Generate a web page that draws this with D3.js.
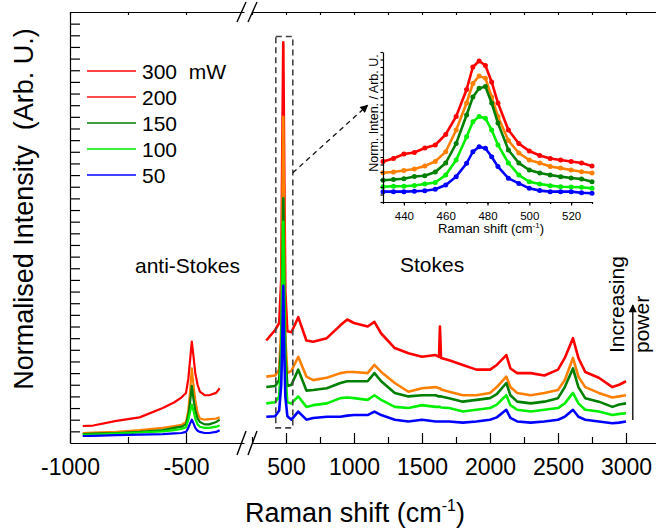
<!DOCTYPE html>
<html>
<head>
<meta charset="utf-8">
<script src="https://cdnjs.cloudflare.com/ajax/libs/d3/7.8.5/d3.min.js"></script>
<style>
  body { margin: 0; background: #fff; }
  text { font-family: "Liberation Sans", Arial, sans-serif; fill: #000; }
  .axis path, .axis line { stroke: #000; stroke-width: 1.2; }
</style>
</head>
<body>
<svg id="chart" width="656" height="530"></svg>
<script>
// Series labels and colours (legend shows 200 in red, as in the original)
const powers = ["300", "200", "150", "100", "50"];
const seriesColors = ["#ff0000", "#ff8000", "#007f00", "#00ee00", "#0000ff"];
const legendColors = ["#ff0000", "#ff1010", "#007f00", "#00ee00", "#0000ff"];

// anti-Stokes side (cm-1, normalised intensity)
const antiX = [-945, -900, -800, -700, -600, -550, -520, -500, -490, -482, -475, -468, -460, -450, -440, -420, -400, -370, -355];
const anti300 = [1.46, 1.5, 1.9, 2.2, 3.0, 3.5, 3.9, 4.3, 5.5, 7.2, 8.7, 7.5, 6.0, 5.0, 4.4, 4.1, 4.1, 4.3, 4.7];
const anti200 = [0.86, 0.9, 0.95, 1.1, 1.3, 1.45, 1.55, 1.8, 2.8, 4.5, 6.4, 5.0, 3.7, 2.6, 2.1, 2.0, 2.05, 2.1, 2.2];
const anti150 = [0.77, 0.8, 0.85, 0.95, 1.1, 1.3, 1.4, 1.6, 2.4, 3.6, 4.9, 3.8, 2.8, 2.1, 1.8, 1.6, 1.6, 1.8, 2.0];
const anti100 = [0.7, 0.72, 0.8, 0.9, 1.0, 1.1, 1.2, 1.35, 2.0, 2.7, 3.3, 2.8, 2.1, 1.6, 1.4, 1.3, 1.3, 1.4, 1.5];
const anti50  = [0.6, 0.62, 0.68, 0.72, 0.77, 0.82, 0.86, 0.95, 1.3, 1.7, 2.0, 1.7, 1.3, 1.05, 0.95, 0.86, 0.86, 0.95, 1.1];

// Stokes side
const stokesX = [355, 420, 450, 465, 472, 480, 488, 495, 510, 540, 590, 650, 700, 800, 900, 950, 1000, 1100, 1150, 1200,
  1300, 1400, 1500, 1600, 1625, 1632, 1640, 1700, 1800, 1900, 2000, 2050, 2120, 2150, 2200, 2300, 2400, 2500, 2550, 2610,
  2650, 2700, 2800, 2900, 2950, 3000];
const stokes300 = [8.8, 9.7, 10.3, 14, 24, 34.4, 22, 13, 9.6, 9.5, 10.8, 8.8, 8.7, 9.0, 10.1, 10.6, 10.3, 10.0, 10.4, 9.4,
  8.15, 7.7, 7.4, 7.55, 7.4, 10.0, 7.3, 7.1, 6.7, 6.3, 6.3, 6.7, 7.55, 6.4, 6.0, 6.0, 5.8, 6.3, 7.3, 9.0,
  7.3, 6.1, 5.6, 4.8, 5.0, 5.3];
const stokes200 = [5.7, 5.8, 6.3, 10, 18, 28, 16, 9, 6.0, 6.2, 7.4, 5.7, 5.4, 5.6, 6.0, 6.1, 6.1, 6.0, 6.7, 6.1,
  5.15, 4.4, 4.7, 4.8, 4.7, 4.7, 4.6, 4.4, 4.1, 4.1, 4.3, 4.8, 5.7, 4.8, 4.3, 4.1, 4.3, 4.55, 5.4, 7.3,
  5.7, 4.8, 4.3, 3.9, 4.0, 4.1];
const stokes150 = [4.8, 4.9, 5.4, 8.5, 14, 21, 12.5, 7.5, 4.9, 5.0, 6.3, 4.5, 4.55, 4.7, 5.15, 5.3, 5.3, 5.3, 6.0, 5.3,
  4.3, 4.0, 4.1, 4.1, 4.0, 4.0, 4.0, 3.85, 3.55, 3.7, 3.85, 4.2, 5.15, 4.1, 3.55, 3.4, 3.55, 3.85, 4.8, 6.4,
  4.8, 3.85, 3.55, 3.1, 3.3, 3.4];
const stokes100 = [3.4, 3.5, 4.0, 7, 12, 19, 11, 6, 3.5, 3.4, 4.0, 3.1, 3.25, 3.4, 3.85, 3.9, 3.85, 3.7, 4.1, 3.7,
  3.1, 3.0, 3.25, 3.1, 3.1, 3.1, 3.05, 3.0, 2.7, 2.85, 3.0, 3.3, 4.1, 3.25, 2.85, 2.7, 2.85, 3.0, 3.4, 4.3,
  3.4, 2.85, 2.7, 2.4, 2.5, 2.55];
const stokes50 = [2.25, 2.3, 2.8, 5, 8.5, 13.5, 7.5, 4, 2.3, 2.0, 2.7, 2.0, 2.15, 2.25, 2.25, 2.35, 2.4, 2.4, 2.7, 2.4,
  2.0, 1.85, 2.0, 1.85, 1.85, 1.85, 1.85, 1.85, 1.75, 1.85, 2.0, 2.2, 2.85, 2.15, 1.85, 1.75, 1.85, 2.0, 2.25, 2.85,
  2.25, 2.0, 1.85, 1.7, 1.75, 1.85];

// Inset: zoom on the 480 cm-1 band (normalised, offset)
const insetX = [430, 435, 440, 445, 450, 455, 460, 465, 470, 473, 476, 479, 482, 485, 490, 495, 500, 505, 510, 515, 520, 525, 530];
const inset300 = [27, 29, 32, 33, 36, 38, 45, 57, 75, 90, 94, 91, 80, 66, 48, 39, 34, 31, 29, 28, 27, 26, 24];
const inset200 = [19.5, 20, 21, 22, 24, 27, 33.5, 48, 66, 79, 84, 82.5, 70, 57, 41, 32.6, 28, 26, 23.6, 22.6, 21.3, 20.2, 19.3];
const inset150 = [14.5, 15, 15.5, 17, 17.5, 20, 26, 39, 58, 70, 75.8, 77, 66, 52.6, 34.7, 26, 21.3, 19.3, 18, 16.9, 16, 15.3, 13.5];
const inset100 = [10.2, 10.5, 10.5, 11, 12, 13, 18, 28, 43.5, 53.5, 57, 55.8, 48, 38, 26, 18, 13.5, 12, 10.9, 10.2, 10, 9.8, 9.1];
const inset50  = [6.9, 6.9, 6.9, 7.2, 7.5, 8.5, 11.3, 16.9, 25.8, 33.5, 36.9, 35.8, 30.2, 23.6, 15.8, 12.4, 9.1, 7.6, 6.9, 6.9, 6.9, 6.2, 5.8];

// Ticks
const xMajorLeft = [-1000, -500];
const xMinorLeft = [-750];
const xMajorRight = [500, 1000, 1500, 2000, 2500, 3000];
const xMinorRight = [250, 750, 1250, 1750, 2250, 2750, 3250];
const yTicks = d3.range(1, 37);
const insetMajor = [440, 460, 480, 500, 520];
const insetMinor = d3.range(430, 531, 10);
const insetYTicks = d3.range(0, 101, 5);

const antiSets = [anti300, anti200, anti150, anti100, anti50];
const stokesSets = [stokes300, stokes200, stokes150, stokes100, stokes50];
const insetSets = [inset300, inset200, inset150, inset100, inset50];

// --- scales (broken x axis: two segments) ---
const xL = d3.scaleLinear().domain([-1000, -250]).range([70, 244]);
const xR = d3.scaleLinear().domain([250, 3250]).range([252, 660]);
const y = d3.scaleLinear().domain([0, 37]).range([443, 12]);

const svg = d3.select("#chart");

// spectra
function drawLines(xs, sets, xs_scale, width) {
  sets.forEach(function(vals, i) {
    const pts = xs.map((x, j) => [x, vals[j]]);
    svg.append("path")
      .datum(pts)
      .attr("fill", "none")
      .attr("stroke", seriesColors[i])
      .attr("stroke-width", width)
      .attr("stroke-linejoin", "round")
      .attr("d", d3.line().x(d => xs_scale(d[0])).y(d => y(d[1])));
  });
}
drawLines(antiX, antiSets, xL, 2.2);
drawLines(stokesX, stokesSets, xR, 2.6);

// axes
const fmt = d => String(d);
function bottomAxis(scale, major, minor) {
  svg.append("g").attr("class", "axis").attr("transform", "translate(0,443)")
    .call(d3.axisBottom(scale).tickValues(minor).tickSizeInner(-6).tickSizeOuter(0).tickFormat(""));
  const g = svg.append("g").attr("class", "axis").attr("transform", "translate(0,443)")
    .call(d3.axisBottom(scale).tickValues(major).tickSizeInner(-10).tickSizeOuter(0).tickPadding(16).tickFormat(fmt));
  g.selectAll("text").attr("font-size", 23);
  g.select(".domain").remove();
}
bottomAxis(xL, xMajorLeft, xMinorLeft);
bottomAxis(xR, xMajorRight, xMinorRight);

function topAxis(scale, ticks) {
  svg.append("g").attr("class", "axis").attr("transform", "translate(0,12)")
    .call(d3.axisTop(scale).tickValues(ticks).tickSizeInner(-3).tickSizeOuter(0).tickFormat(""));
}
topAxis(xL, xMajorLeft.concat(xMinorLeft));
topAxis(xR, xMajorRight.concat(xMinorRight));

svg.append("g").attr("class", "axis").attr("transform", "translate(70,0)")
  .call(d3.axisLeft(y).tickValues(yTicks).tickSizeInner(-10).tickSizeOuter(0).tickFormat(""));

// axis break marks
const brk = (xL.range()[1] + xR.range()[0]) / 2;
[[443, 12], [12, 10]].forEach(function(b) {
  [-6, 5].forEach(function(dx) {
    svg.append("line")
      .attr("x1", brk + dx - 5).attr("y1", b[0] + b[1])
      .attr("x2", brk + dx + 4).attr("y2", b[0] - b[1])
      .attr("stroke", "#000").attr("stroke-width", 1.4);
  });
});

// axis titles
svg.append("text")
  .attr("transform", "translate(33,209) rotate(-90)")
  .attr("text-anchor", "middle")
  .attr("font-size", 27)
  .style("white-space", "pre")
  .text("Normalised Intensity  (Arb. U.)");

const xt = svg.append("text").attr("x", 355).attr("y", 522).attr("text-anchor", "middle").attr("font-size", 27);
xt.append("tspan").text("Raman shift (cm");
xt.append("tspan").attr("dy", -11).attr("font-size", 16).text("-1");
xt.append("tspan").attr("dy", 11).text(")");

// legend
powers.forEach(function(p, i) {
  const ly = 71 + i * 26;
  svg.append("line").attr("x1", 87).attr("x2", 136).attr("y1", ly).attr("y2", ly)
    .attr("stroke", legendColors[i]).attr("stroke-width", 1.5);
  svg.append("text").attr("x", 142).attr("y", ly + 7.5).attr("font-size", 21)
    .style("white-space", "pre")
    .text(i === 0 ? p + "  mW" : p);
});

// region labels
svg.append("text").attr("x", 135).attr("y", 273).attr("font-size", 21).text("anti-Stokes");
svg.append("text").attr("x", 400).attr("y", 272).attr("font-size", 21).text("Stokes");

// increasing power arrow
svg.append("defs").append("marker")
  .attr("id", "head").attr("viewBox", "0 0 10 10").attr("refX", 9).attr("refY", 5)
  .attr("markerWidth", 10).attr("markerHeight", 8).attr("markerUnits", "userSpaceOnUse")
  .attr("orient", "auto")
  .append("path").attr("d", "M0,0 L10,5 L0,10 Z").attr("fill", "#000");

svg.append("line")
  .attr("x1", xR(3050)).attr("y1", y(1.97))
  .attr("x2", xR(3050)).attr("y2", y(11.85))
  .attr("stroke", "#000").attr("stroke-width", 1.3)
  .attr("marker-end", "url(#head)");
svg.append("text").attr("transform", "translate(624,353) rotate(-90)").attr("font-size", 21).text("Increasing");
svg.append("text").attr("transform", "translate(649,353) rotate(-90)").attr("font-size", 21).text("power");

// dashed box round the main peak and arrow to the inset
svg.append("rect")
  .attr("x", xR(425)).attr("y", y(34.9))
  .attr("width", xR(550) - xR(425)).attr("height", y(1.3) - y(34.9))
  .attr("fill", "none").attr("stroke", "#444").attr("stroke-width", 1.6)
  .attr("stroke-dasharray", "6,4");
svg.append("line")
  .attr("x1", xR(550)).attr("y1", y(23.2))
  .attr("x2", xR(1100)).attr("y2", y(29))
  .attr("stroke", "#111").attr("stroke-width", 1.3)
  .attr("stroke-dasharray", "5,4")
  .attr("marker-end", "url(#head)");

// --- inset ---
const xi = d3.scaleLinear().domain([430, 530]).range([383, 592]);
const yi = d3.scaleLinear().domain([0, 100]).range([202, 52]);
const inset = svg.append("g");

insetSets.forEach(function(vals, i) {
  const pts = insetX.map((x, j) => [x, vals[j]]);
  inset.append("path").datum(pts)
    .attr("fill", "none").attr("stroke", seriesColors[i]).attr("stroke-width", 2.6)
    .attr("d", d3.line().x(d => xi(d[0])).y(d => yi(d[1])));
  inset.selectAll(null).data(pts).enter().append("circle")
    .attr("cx", d => xi(d[0])).attr("cy", d => yi(d[1])).attr("r", 2.5)
    .attr("fill", seriesColors[i]);
});

inset.append("g").attr("class", "axis").attr("transform", "translate(0,202)")
  .call(d3.axisBottom(xi).tickValues(insetMinor).tickSizeInner(2).tickSizeOuter(0).tickFormat(""));
const ib = inset.append("g").attr("class", "axis").attr("transform", "translate(0,202)")
  .call(d3.axisBottom(xi).tickValues(insetMajor).tickSizeInner(3.5).tickSizeOuter(0).tickPadding(6).tickFormat(fmt));
ib.selectAll("text").attr("font-size", 11.5);
inset.append("g").attr("class", "axis").attr("transform", "translate(383,0)")
  .call(d3.axisLeft(yi).tickValues(insetYTicks).tickSizeInner(2.5).tickSizeOuter(0).tickFormat(""));
inset.selectAll(".axis path, .axis line").attr("stroke-width", 0.9);

const it = inset.append("text").attr("x", 491).attr("y", 233).attr("text-anchor", "middle").attr("font-size", 13);
it.append("tspan").text("Raman shift (cm");
it.append("tspan").attr("dy", -5).attr("font-size", 8).text("-1");
it.append("tspan").attr("dy", 5).text(")");
inset.append("text")
  .attr("transform", "translate(378,113) rotate(-90)")
  .attr("text-anchor", "middle").attr("font-size", 12.5)
  .text("Norm. Inten. / Arb. U.");
</script>
</body>
</html>
